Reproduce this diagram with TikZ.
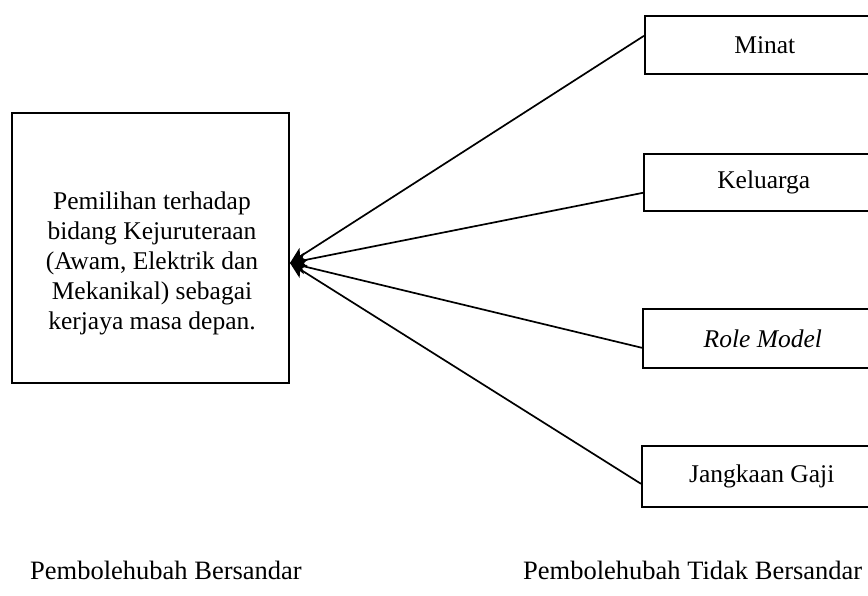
\documentclass[tikz,border=0pt]{standalone}
\usepackage{fontspec}
\setmainfont{Liberation Serif}
\usetikzlibrary{arrows.meta}
\begin{document}
\begin{tikzpicture}[x=1pt,y=-1pt,
  box/.style={draw, line width=1.6pt, rectangle, inner sep=0pt, anchor=north west},
  txt/.style={font=\fontsize{25.5}{30}\selectfont, inner sep=0pt},
  lbl/.style={font=\fontsize{26.5}{30}\selectfont, inner sep=0pt, anchor=west},
  link/.style={line width=1.7pt, -{Stealth[length=16pt,width=15pt,inset=4pt]}}]
\useasboundingbox (0,0) rectangle (868,595);
% left box
\node[box, minimum width=277, minimum height=270] (dep) at (11,112) {};
\node[txt, align=center] (deptext) at (152,263) {Pemilihan terhadap\\bidang Kejuruteraan\\(Awam, Elektrik dan\\Mekanikal) sebagai\\kerjaya masa depan.};
% right boxes
\node[box, minimum width=240, minimum height=58, txt] (minat) at (644,15) {Minat};
\node[box, minimum width=240, minimum height=57, txt] (kel) at (643,153) {Keluarga};
\node[box, minimum width=240, minimum height=59, txt] (role) at (642,308) {\itshape Role Model};
\node[box, minimum width=240, minimum height=61, txt] (gaji) at (641,445) {Jangkaan Gaji};
\coordinate (tip) at (290,263);
\draw[link] ([yshift=9pt]minat.west) -- (tip);
\draw[link] ([yshift=-10.5pt]kel.west) -- (tip);
\draw[link] ([yshift=-9.5pt]role.west) -- (tip);
\draw[link] ([yshift=-7.5pt]gaji.west) -- (tip);
% labels
\node[lbl] (lblL) at (30,570) {Pembolehubah Bersandar};
\node[lbl] (lblR) at (523,570) {Pembolehubah Tidak Bersandar};
\end{tikzpicture}
\end{document}
